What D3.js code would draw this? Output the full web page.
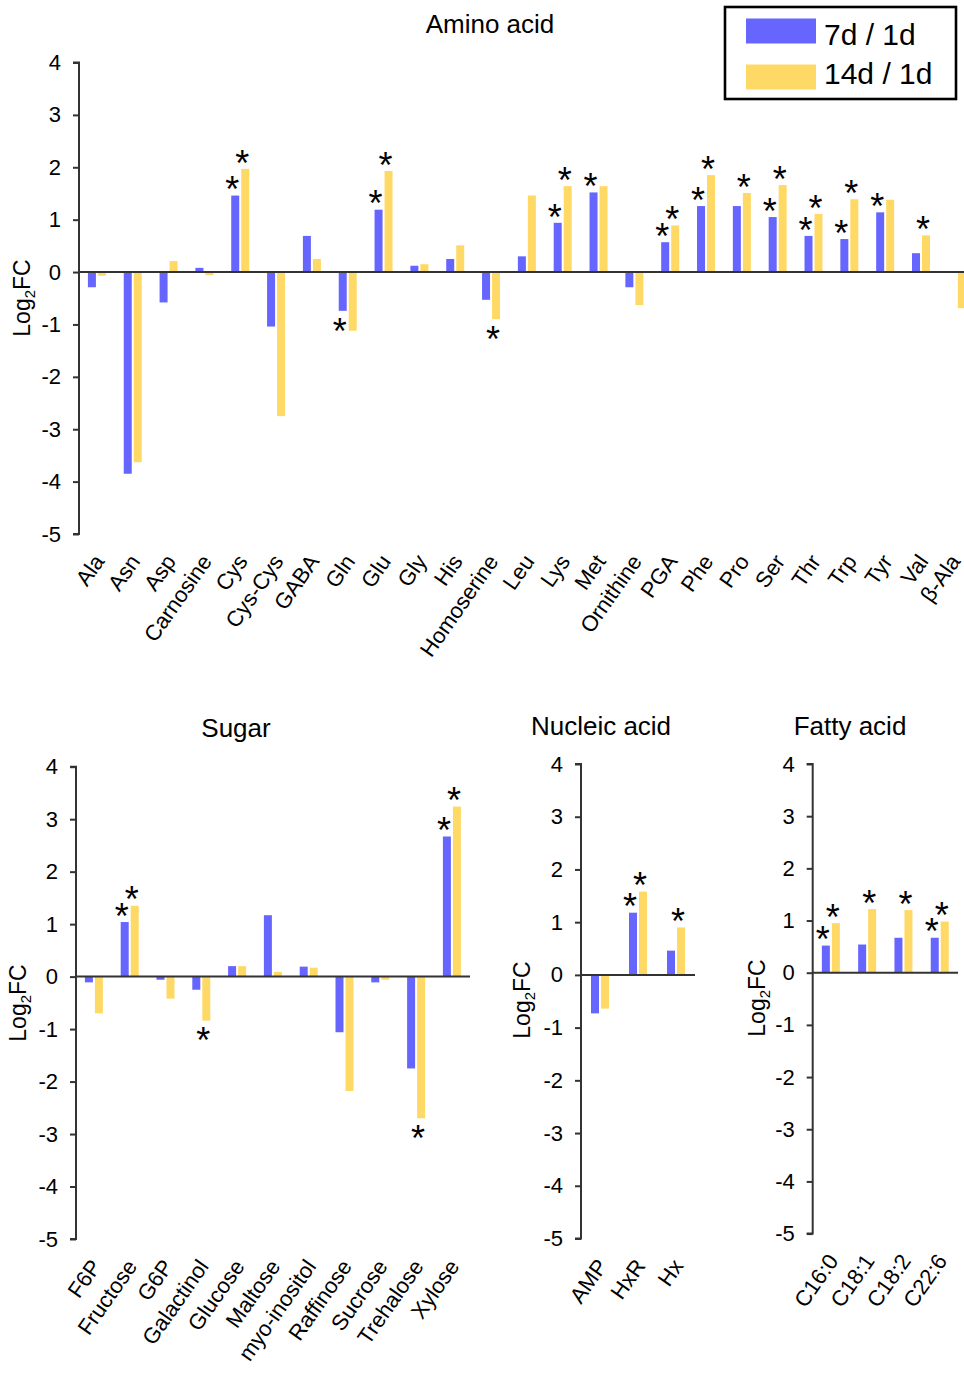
<!DOCTYPE html>
<html>
<head>
<meta charset="utf-8">
<script src="https://cdn.jsdelivr.net/npm/d3@7"></script>
<style>
  html, body { margin: 0; padding: 0; background: #fff; }
  svg { display: block; font-family: "Liberation Sans", Arial, sans-serif; }
</style>
</head>
<body>
<svg id="chart" width="964" height="1376"></svg>
<script>
// ---- Data: log2 fold change (7d/1d and 14d/1d) per metabolite ----
const aminoCats = ["Ala","Asn","Asp","Carnosine","Cys","Cys-Cys","GABA","Gln","Glu","Gly","His","Homoserine","Leu","Lys","Met","Ornithine","PGA","Phe","Pro","Ser","Thr","Trp","Tyr","Val","β-Ala"];
const amino7d  = [-0.29,-3.85,-0.58,0.08,1.46,-1.04,0.69,-0.74,1.19,0.12,0.25,-0.53,0.30,0.94,1.52,-0.29,0.57,1.26,1.26,1.05,0.69,0.63,1.14,0.36,0.00];
const amino14d = [-0.07,-3.63,0.21,-0.06,1.97,-2.75,0.25,-1.12,1.93,0.15,0.51,-0.90,1.46,1.64,1.64,-0.63,0.89,1.85,1.51,1.66,1.11,1.39,1.38,0.70,-0.69];
const aminoSig7d  = [0,0,0,0,1,0,0,1,1,0,0,0,0,1,1,0,1,1,0,1,1,1,1,0,0];
const aminoSig14d = [0,0,0,0,1,0,0,0,1,0,0,1,0,1,0,0,1,1,1,1,1,1,0,1,0];

const sugarCats = ["F6P","Fructose","G6P","Galactinol","Glucose","Maltose","myo-inositol","Raffinose","Sucrose","Trehalose","Xylose"];
const sugar7d  = [-0.11,1.04,-0.06,-0.25,0.20,1.17,0.19,-1.06,-0.11,-1.75,2.67];
const sugar14d = [-0.70,1.35,-0.42,-0.84,0.20,0.09,0.17,-2.18,-0.06,-2.70,3.24];
const sugarSig7d  = [0,1,0,0,0,0,0,0,0,0,1];
const sugarSig14d = [0,1,0,1,0,0,0,0,0,1,1];

const nucleicCats = ["AMP","HxR","Hx"];
const nucleic7d  = [-0.73,1.18,0.46];
const nucleic14d = [-0.64,1.58,0.90];
const nucleicSig7d  = [0,1,0];
const nucleicSig14d = [0,1,1];

const fattyCats = ["C16:0","C18:1","C18:2","C22:6"];
const fatty7d  = [0.52,0.54,0.67,0.67];
const fatty14d = [0.95,1.22,1.20,0.98];
const fattySig7d  = [1,0,0,1];
const fattySig14d = [1,1,1,1];

const yTicks = [4,3,2,1,0,-1,-2,-3,-4,-5];
const seriesNames = ["7d / 1d","14d / 1d"];
const seriesColors = ["#6666FF","#FFD966"];

const svg = d3.select("#chart");

function drawPanel(opt) {
  const g = svg.append("g");
  const y = d3.scaleLinear().domain([-5, 4]).range([opt.yBottom, opt.yTop]);
  const x0 = d3.scaleBand().domain(opt.cats).range([opt.xLeft, opt.xLeft + opt.step * opt.cats.length]).padding(0);
  const bw = x0.bandwidth();
  const x1 = d3.scaleBand().domain([0, 1]).range([bw / 2 - 9, bw / 2 + 9]).paddingInner(0.2).paddingOuter(0);

  const rows = opt.cats.map((c, i) => ({
    cat: c,
    vals: [opt.v7[i], opt.v14[i]],
    sig: [opt.s7[i], opt.s14[i]]
  }));

  // bars
  const grp = g.selectAll("g.cat").data(rows).join("g")
    .attr("class", "cat")
    .attr("transform", d => `translate(${x0(d.cat)},0)`);

  grp.selectAll("rect").data(d => d.vals.map((v, k) => ({ v, k }))).join("rect")
    .attr("x", d => x1(d.k))
    .attr("width", x1.bandwidth())
    .attr("y", d => y(Math.max(0, d.v)))
    .attr("height", d => Math.abs(y(d.v) - y(0)))
    .attr("fill", d => seriesColors[d.k]);

  // significance marks
  const starSize = 36;
  grp.selectAll("text.star")
    .data(d => d.vals.map((v, k) => ({ v, k, s: d.sig[k] })).filter(e => e.s))
    .join("text")
    .attr("class", "star")
    .attr("x", d => x1(d.k) + x1.bandwidth() / 2 - 3)
    .attr("y", d => {
      const centre = d.v >= 0 ? y(d.v) - 14 : y(d.v) + 12;
      return centre + 0.575 * starSize;
    })
    .attr("text-anchor", "middle")
    .attr("font-size", starSize)
    .attr("fill", "#000")
    .text("*");

  // y axis
  const yAxis = d3.axisLeft(y).tickValues(yTicks).tickSize(6).tickPadding(12).tickFormat(d => String(d));
  const ya = g.append("g").attr("transform", `translate(${opt.xLeft},0)`).call(yAxis);
  ya.attr("font-size", 22).attr("font-family", "Liberation Sans, Arial, sans-serif");
  ya.select(".domain").attr("stroke", "#333").attr("stroke-width", 2).attr("d", `M-6,${y(4)}H0V${y(-5)}H-6`);
  ya.selectAll(".tick line").attr("stroke", "#333").attr("stroke-width", 2);
  ya.selectAll(".tick text").attr("font-size", 22).attr("fill", "#000");

  // zero line
  g.append("line")
    .attr("x1", opt.xLeft).attr("x2", opt.xRight)
    .attr("y1", y(0)).attr("y2", y(0))
    .attr("stroke", "#333").attr("stroke-width", 2);

  // category labels (kept inside the drawing's right edge)
  g.selectAll("text.cat").data(opt.cats).join("text")
    .attr("class", "cat")
    .attr("transform", c => `translate(${Math.min(x0(c) + bw / 2 + 2, 955)},${opt.yBottom + 23}) rotate(-55)`)
    .attr("text-anchor", "end")
    .attr("dy", "0.35em")
    .attr("font-size", 22)
    .attr("fill", "#000")
    .text(c => c);

  // y title: Log2FC
  const yt = g.append("text")
    .attr("transform", `translate(${opt.yLabelX},${opt.yLabelY}) rotate(-90)`)
    .attr("text-anchor", "middle")
    .attr("font-size", 23)
    .attr("fill", "#000");
  yt.append("tspan").text("Log");
  yt.append("tspan").attr("font-size", 15).attr("dy", 5).text("2");
  yt.append("tspan").attr("dy", -5).text("FC");

  // panel title
  g.append("text")
    .attr("x", opt.titleX).attr("y", opt.titleY)
    .attr("text-anchor", "middle")
    .attr("font-size", 26)
    .attr("fill", "#000")
    .text(opt.title);
}

drawPanel({
  title: "Amino acid", titleX: 490, titleY: 33,
  cats: aminoCats, v7: amino7d, v14: amino14d, s7: aminoSig7d, s14: aminoSig14d,
  xLeft: 79, xRight: 975, step: 35.83, yTop: 62.5, yBottom: 534,
  yLabelX: 30, yLabelY: 298
});

drawPanel({
  title: "Sugar", titleX: 236, titleY: 737,
  cats: sugarCats, v7: sugar7d, v14: sugar14d, s7: sugarSig7d, s14: sugarSig14d,
  xLeft: 76, xRight: 470, step: 35.8, yTop: 766.7, yBottom: 1239,
  yLabelX: 26, yLabelY: 1003
});

drawPanel({
  title: "Nucleic acid", titleX: 601, titleY: 735,
  cats: nucleicCats, v7: nucleic7d, v14: nucleic14d, s7: nucleicSig7d, s14: nucleicSig14d,
  xLeft: 581, xRight: 695, step: 38, yTop: 764, yBottom: 1238.5,
  yLabelX: 530, yLabelY: 1000
});

drawPanel({
  title: "Fatty acid", titleX: 850, titleY: 735,
  cats: fattyCats, v7: fatty7d, v14: fatty14d, s7: fattySig7d, s14: fattySig14d,
  xLeft: 812.7, xRight: 958, step: 36.3, yTop: 764, yBottom: 1233.6,
  yLabelX: 765, yLabelY: 998
});

// legend
const lg = svg.append("g");
lg.append("rect")
  .attr("x", 725).attr("y", 7).attr("width", 231).attr("height", 92)
  .attr("fill", "#fff").attr("stroke", "#000").attr("stroke-width", 2.6);
seriesNames.forEach((name, k) => {
  lg.append("rect")
    .attr("x", 746).attr("y", 18.5 + k * 46).attr("width", 70).attr("height", 25)
    .attr("fill", seriesColors[k]);
  lg.append("text")
    .attr("x", 824).attr("y", 45 + k * 38.5)
    .attr("font-size", 30)
    .attr("fill", "#000")
    .text(name);
});
</script>
</body>
</html>
